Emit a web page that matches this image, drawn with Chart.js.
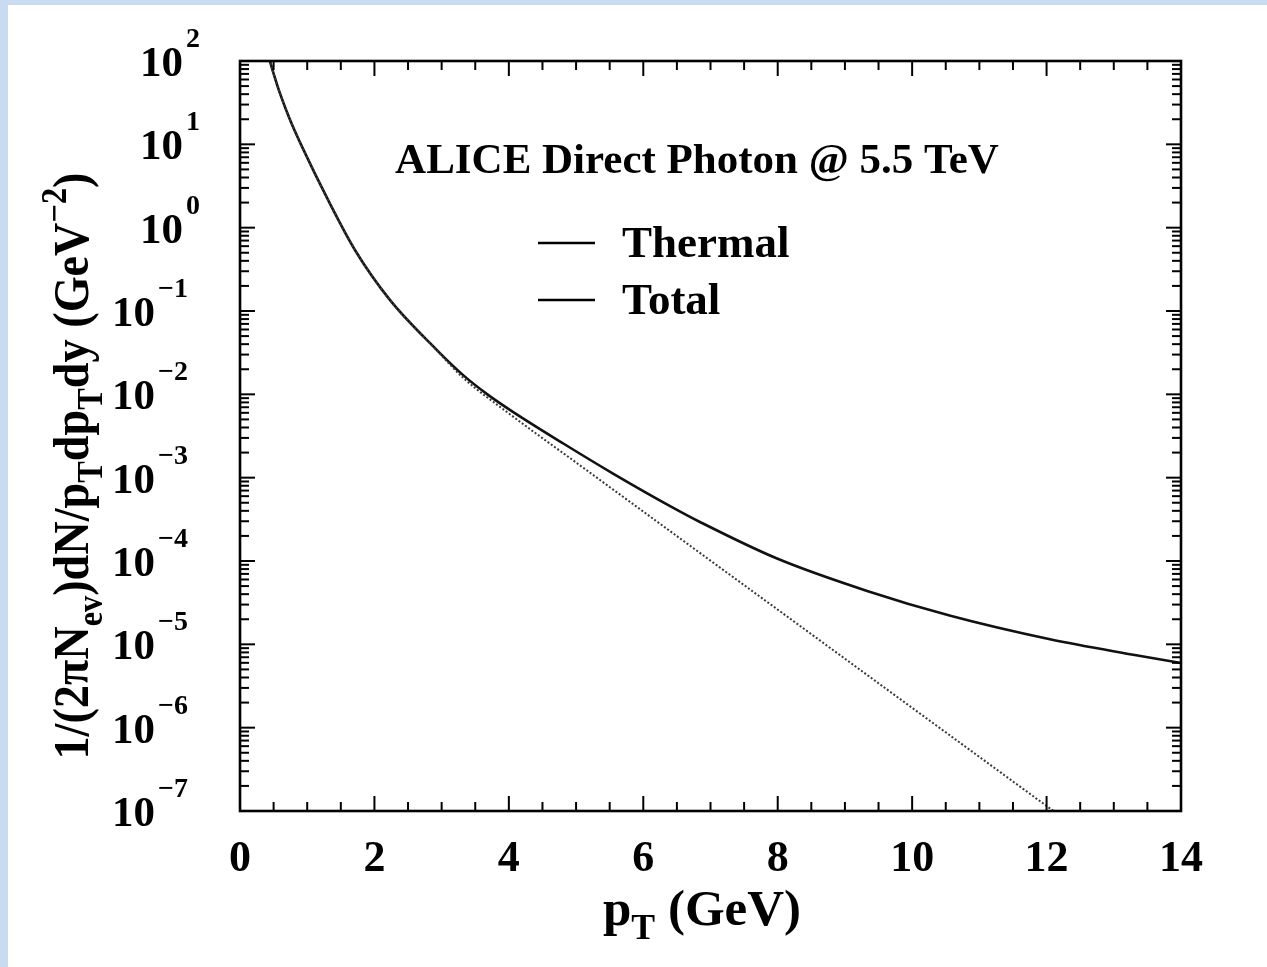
<!DOCTYPE html>
<html><head><meta charset="utf-8">
<script src="https://cdn.jsdelivr.net/npm/chart.js@4.4.1/dist/chart.umd.min.js"></script>
<style>
html,body{margin:0;padding:0;background:#c8dbf0;width:1267px;height:967px;overflow:hidden}
#wrap{position:absolute;left:8px;top:5px;width:1259px;height:962px;background:#fff}
canvas{display:block}
</style></head><body>
<div id="wrap"><canvas id="c" width="1259" height="962"></canvas></div>
<script>
// ---- data ----
const totalPt  = [0.42, 0.50, 0.60, 0.75, 0.94, 1.31, 1.71, 2.23, 2.93, 3.32, 3.68, 4.06, 4.81, 5.55, 6.44, 6.85, 7.99, 9.33, 10.57, 12.05, 13.29, 14.0];
const totalVal = [118, 70.6, 39.7, 19.2, 8.75, 2.15, 0.54, 0.136, 0.034, 0.0170, 0.0100, 0.00617, 0.00257, 0.00112, 4.37e-4, 2.92e-4, 1.07e-4, 4.37e-5, 2.20e-5, 1.15e-5, 7.5e-6, 5.97e-6];
const thermalPt  = [0.42, 0.50, 0.60, 0.75, 0.94, 1.31, 1.71, 2.23, 2.93, 3.32, 4.0, 5.0, 6.0, 7.0, 8.0, 9.0, 10.0, 11.0, 12.0, 12.2];
const thermalVal = [118, 70.6, 39.7, 19.2, 8.75, 2.15, 0.54, 0.135, 0.0335, 0.0158, 5.9e-3, 1.52e-3, 3.92e-4, 1.01e-4, 2.61e-5, 6.72e-6, 1.73e-6, 4.46e-7, 1.15e-7, 8.8e-8];
const seriesLabels = ['Thermal', 'Total'];
const xTickValues = [0, 2, 4, 6, 8, 10, 12, 14];
const xTickLabels = ['0', '2', '4', '6', '8', '10', '12', '14'];
const yTickExponents = [2, 1, 0, -1, -2, -3, -4, -5, -6, -7];
const plotTitle = 'ALICE Direct Photon @ 5.5 TeV';
const xTitleRuns = [['p', 0], ['T', -1], [' (GeV)', 0]];
const yTitleRuns = [['1/(2\u03c0N', 0], ['ev', -1], [')dN/p', 0], ['T', -1], ['dp', 0], ['T', -1], ['dy (GeV', 0], ['\u22122', 1], [')', 0]];

// ---- layout (page coords minus canvas offset) ----
const OX = 8, OY = 5;
const FAM = '"Liberation Serif", "Times New Roman", serif';
const font = s => 'bold ' + s + 'px ' + FAM;

function runsWidth(ctx, runs, size) {
  let w = 0;
  for (const [t, s] of runs) { ctx.font = font(s === 0 ? size : size * 0.7); w += ctx.measureText(t).width; }
  return w;
}
function drawRuns(ctx, runs, x0, size) {
  let x = x0;
  for (const [t, s] of runs) {
    const sz = s === 0 ? size : size * 0.7;
    ctx.font = font(sz);
    const dy = s === -1 ? size * 0.28 : (s === 1 ? -size * 0.45 : 0);
    ctx.fillText(t, x, dy);
    x += ctx.measureText(t).width;
  }
}

const decor = {
  id: 'decor',
  afterDatasetsDraw(chart) {
    const { ctx, chartArea: a, scales: { x, y } } = chart;
    ctx.save();
    ctx.strokeStyle = '#000';
    ctx.fillStyle = '#000';
    const line = (x1, y1, x2, y2) => { ctx.beginPath(); ctx.moveTo(x1, y1); ctx.lineTo(x2, y2); ctx.stroke(); };
    // minor / major ticks
    ctx.lineWidth = 2;
    for (let i = 0; i <= 28; i++) {
      const v = i * 0.5;
      const px = x.getPixelForValue(v);
      const L = (i % 4 === 0) ? 15 : 9;
      line(px, a.bottom, px, a.bottom - L);
      line(px, a.top, px, a.top + L);
    }
    for (const e of yTickExponents) {
      for (let k = 1; k <= 9; k++) {
        const v = k * Math.pow(10, e);
        if (v > 100.0001 || v < 1e-7 * 0.9999) continue;
        const py = y.getPixelForValue(v);
        const L = k === 1 ? 15 : 9;
        line(a.left, py, a.left + L, py);
        line(a.right, py, a.right - L, py);
      }
    }
    // frame
    ctx.lineWidth = 2.6;
    ctx.strokeRect(a.left, a.top, a.right - a.left, a.bottom - a.top);

    // x tick labels
    ctx.font = font(44);
    ctx.textAlign = 'center';
    ctx.textBaseline = 'alphabetic';
    xTickValues.forEach((v, i) => ctx.fillText(xTickLabels[i], x.getPixelForValue(v), 871 - OY));

    // y tick labels 10^n
    for (const e of yTickExponents) {
      const py = y.getPixelForValue(Math.pow(10, e));
      const rx = (e >= 0 ? 183 : 155) - OX;
      ctx.font = font(43);
      ctx.textAlign = 'right';
      ctx.fillText('10', rx, py + 15);
      ctx.font = font(28);
      ctx.textAlign = 'left';
      ctx.fillText(e >= 0 ? String(e) : '\u2212' + String(-e), rx + 3, py - 14);
    }

    // annotation title
    ctx.font = font(43);
    ctx.textAlign = 'center';
    ctx.fillText(plotTitle, 697 - OX, 173 - OY);

    // legend
    ctx.lineWidth = 2.4;
    const ds = chart.data.datasets;
    [243, 300].forEach((ly, i) => {
      line(538 - OX, ly - OY, 595 - OX, ly - OY);
      ctx.font = font(45);
      ctx.textAlign = 'left';
      ctx.fillText(ds[i].label, 622 - OX, ly + 14 - OY);
    });

    // x axis title
    ctx.textAlign = 'left';
    const xs = 51;
    const xw = runsWidth(ctx, xTitleRuns, xs);
    ctx.save();
    ctx.translate(702 - OX, 925 - OY);
    drawRuns(ctx, xTitleRuns, -xw / 2, xs);
    ctx.restore();

    // y axis title (rotated)
    const ys = 50;
    const yw = runsWidth(ctx, yTitleRuns, ys);
    ctx.save();
    ctx.translate(88 - OX, 466 - OY);
    ctx.rotate(-Math.PI / 2);
    ctx.scale(587 / yw, 1);
    drawRuns(ctx, yTitleRuns, -yw / 2, ys);
    ctx.restore();

    ctx.restore();
  }
};

new Chart(document.getElementById('c'), {
  type: 'scatter',
  data: {
    datasets: [
      {
        label: seriesLabels[0],
        data: thermalPt.map((p, i) => ({ x: p, y: thermalVal[i] })),
        showLine: true, borderColor: '#3a3a3a', borderWidth: 2, borderDash: [2, 2],
        pointRadius: 0, cubicInterpolationMode: 'monotone', fill: false
      },
      {
        label: seriesLabels[1],
        data: totalPt.map((p, i) => ({ x: p, y: totalVal[i] })),
        showLine: true, borderColor: '#111', borderWidth: 2.6,
        pointRadius: 0, cubicInterpolationMode: 'monotone', fill: false
      }
    ]
  },
  options: {
    responsive: false,
    animation: false,
    layout: { padding: { left: 240 - OX, right: 1267 - 1181, top: 61 - OY, bottom: 967 - 811 } },
    plugins: { legend: { display: false }, tooltip: { enabled: false } },
    scales: {
      x: { type: 'linear', min: 0, max: 14, display: false },
      y: { type: 'logarithmic', min: 1e-7, max: 1e2, display: false }
    }
  },
  plugins: [decor]
});
</script>
</body></html>
